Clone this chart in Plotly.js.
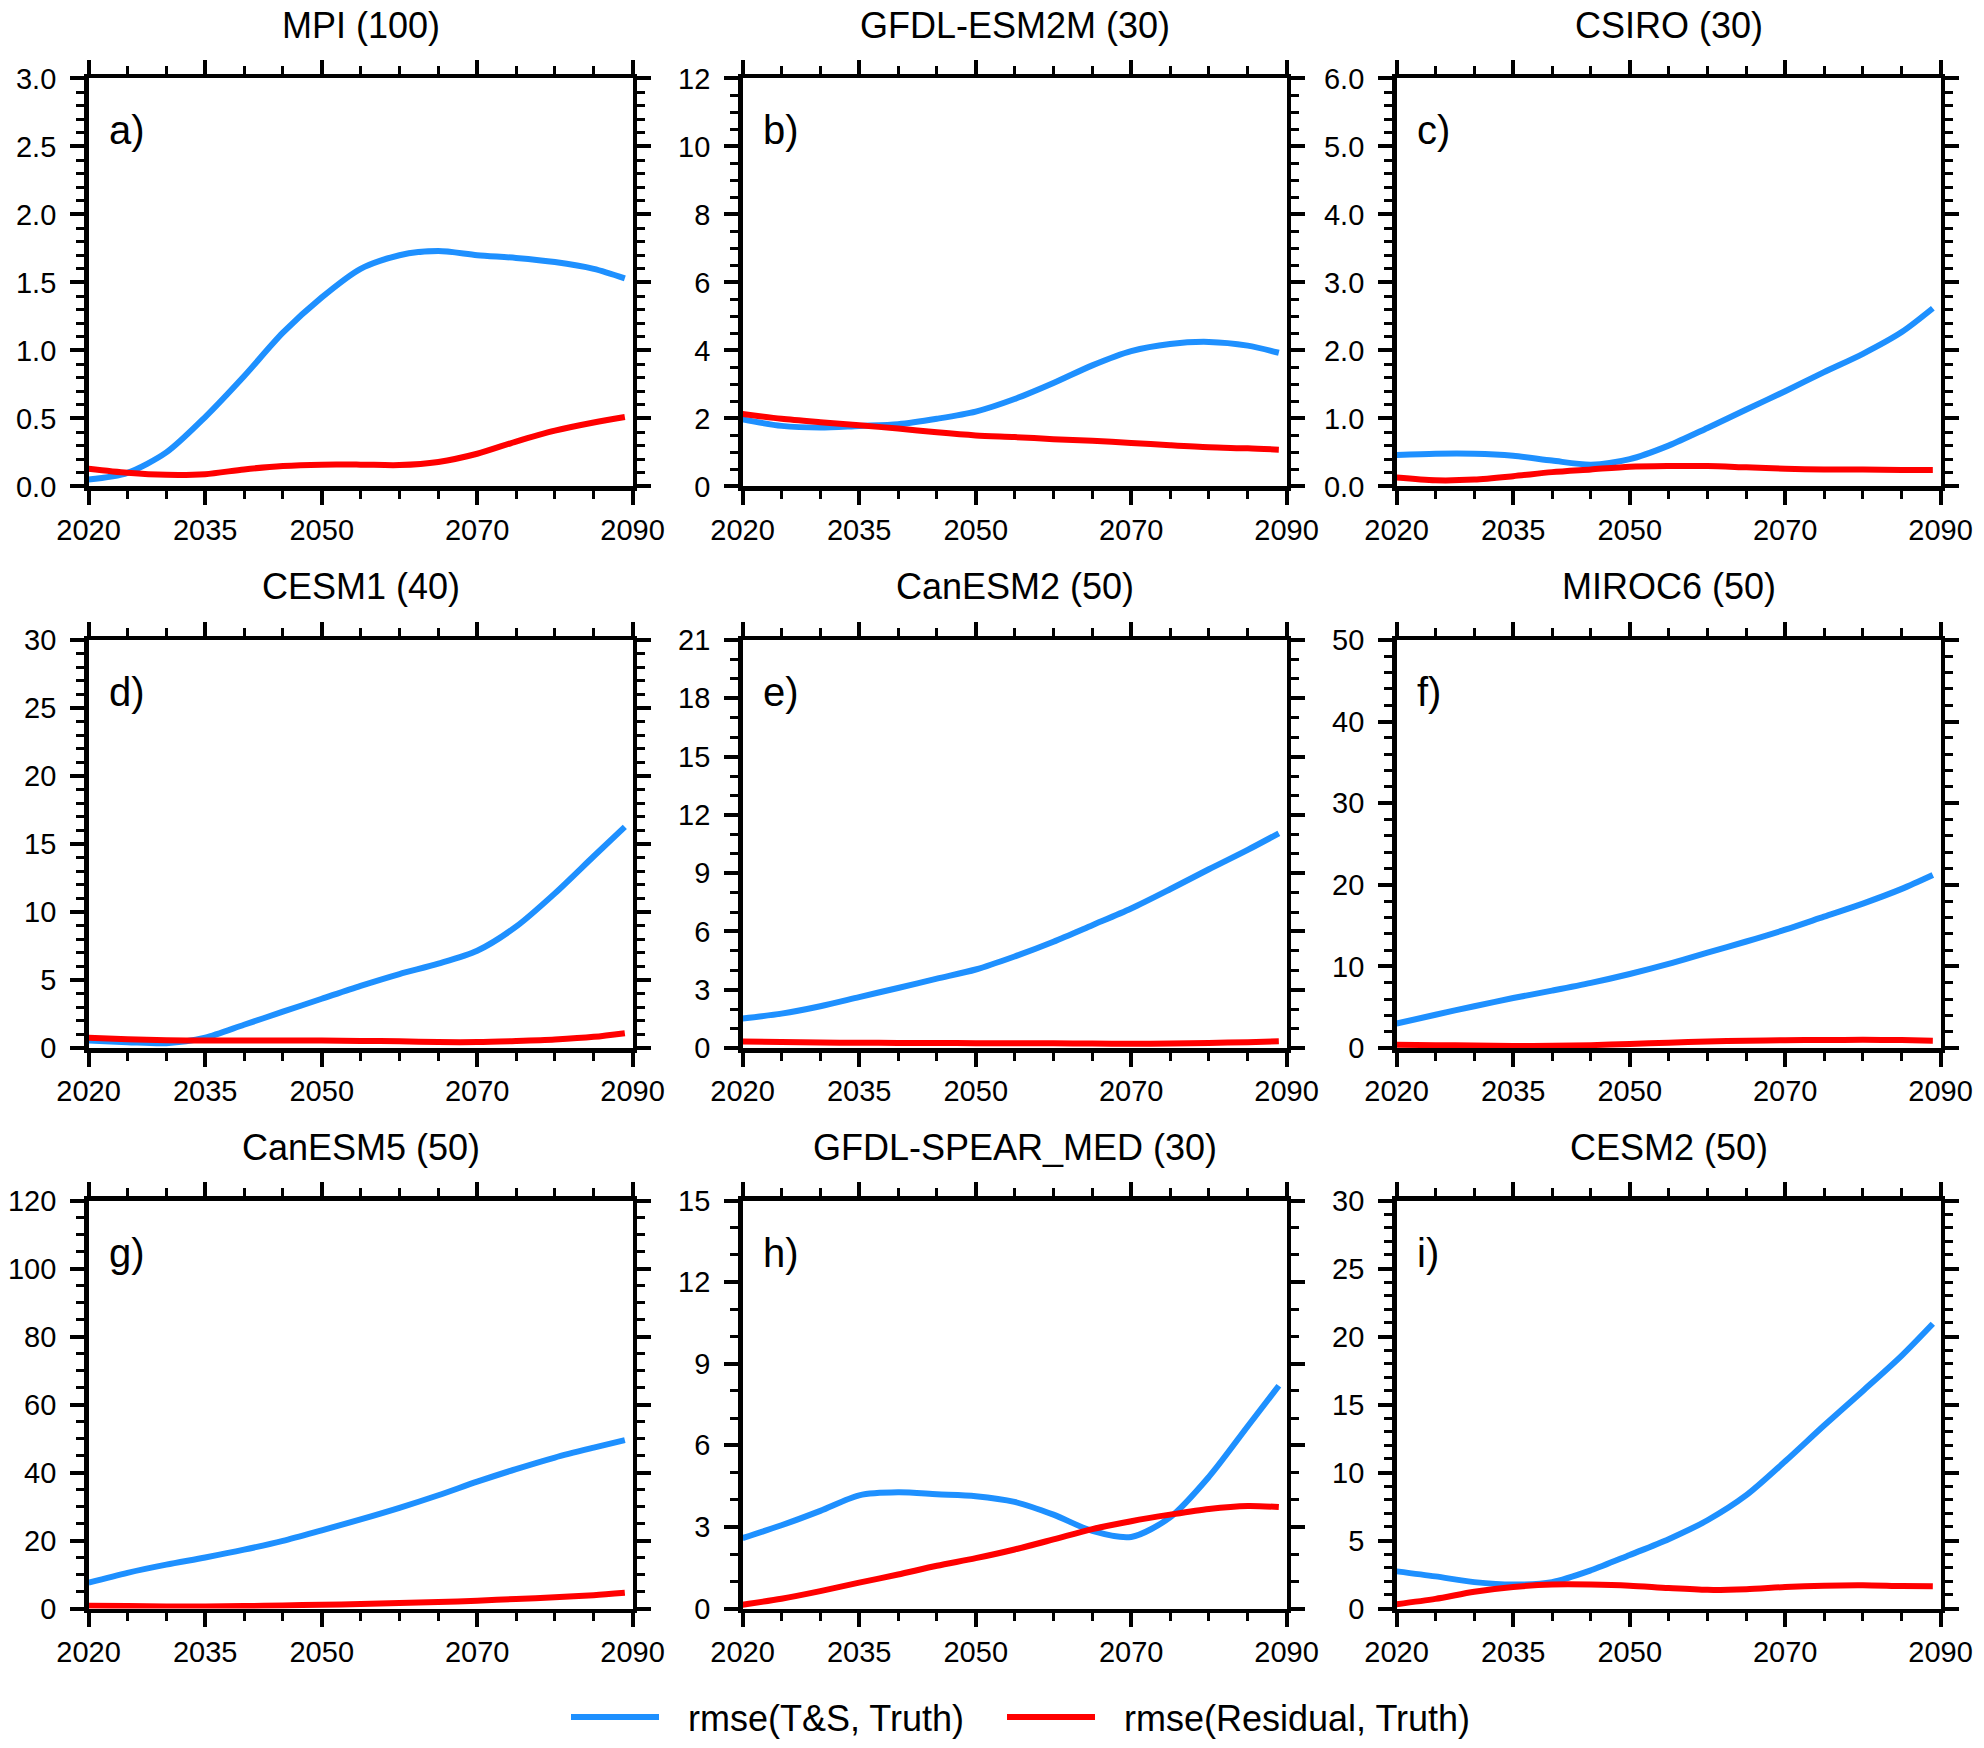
<!DOCTYPE html>
<html>
<head>
<meta charset="utf-8">
<script src="https://cdn.plot.ly/plotly-3.0.1.min.js"></script>
<style>html,body{margin:0;padding:0;background:#fff}#chart{width:1984px;height:1748px}</style>
</head>
<body>
<div id="chart"></div>
<script>
// ---- data ----
const years = [2020,2025,2030,2035,2040,2045,2050,2055,2060,2065,2070,2075,2080,2085,2089];
const titles = ["MPI (100)","GFDL-ESM2M (30)","CSIRO (30)","CESM1 (40)","CanESM2 (50)","MIROC6 (50)","CanESM5 (50)","GFDL-SPEAR_MED (30)","CESM2 (50)"];
const panelLabels = ["a)","b)","c)","d)","e)","f)","g)","h)","i)"];
const seriesNames = ["rmse(T&S, Truth)","rmse(Residual, Truth)"];

const tsA = [0.05,0.10,0.25,0.51,0.81,1.13,1.39,1.60,1.70,1.73,1.70,1.68,1.65,1.60,1.53];
const resA = [0.13,0.10,0.085,0.09,0.125,0.15,0.16,0.16,0.157,0.18,0.24,0.33,0.41,0.47,0.51];
const tsB = [1.97,1.78,1.73,1.78,1.83,1.99,2.20,2.57,3.04,3.56,3.98,4.19,4.25,4.14,3.93];
const resB = [2.13,1.99,1.89,1.80,1.70,1.59,1.50,1.45,1.39,1.34,1.28,1.21,1.15,1.12,1.08];
const tsC = [0.46,0.48,0.48,0.45,0.38,0.32,0.40,0.60,0.86,1.13,1.40,1.68,1.95,2.27,2.62];
const resC = [0.13,0.09,0.10,0.15,0.21,0.25,0.29,0.30,0.30,0.28,0.26,0.25,0.25,0.24,0.24];
const tsD = [0.55,0.43,0.35,0.76,1.71,2.67,3.62,4.57,5.44,6.20,7.15,8.92,11.37,14.1,16.26];
const resD = [0.76,0.65,0.57,0.55,0.55,0.55,0.55,0.52,0.49,0.44,0.44,0.52,0.63,0.82,1.09];
const tsE = [1.52,1.77,2.15,2.62,3.09,3.57,4.04,4.71,5.47,6.32,7.18,8.17,9.20,10.2,11.05];
const resE = [0.34,0.31,0.28,0.27,0.26,0.26,0.25,0.25,0.24,0.23,0.22,0.23,0.26,0.30,0.35];
const tsF = [3.0,4.08,5.12,6.12,7.03,7.98,9.07,10.3,11.7,13.05,14.5,16.1,17.7,19.5,21.2];
const resF = [0.40,0.35,0.30,0.25,0.28,0.35,0.50,0.65,0.80,0.88,0.95,0.98,1.00,0.97,0.90];
const tsG = [7.6,10.5,12.9,15.0,17.3,19.9,23.0,26.2,29.6,33.3,37.3,41.0,44.4,47.3,49.5];
const resG = [0.8,0.7,0.6,0.6,0.7,0.9,1.1,1.3,1.6,1.9,2.3,2.8,3.3,3.9,4.6];
const tsH = [2.59,3.06,3.59,4.16,4.27,4.20,4.13,3.92,3.45,2.85,2.63,3.35,4.84,6.70,8.19];
const resH = [0.14,0.36,0.64,0.95,1.25,1.57,1.85,2.17,2.54,2.92,3.21,3.45,3.66,3.77,3.73];
const tsI = [2.73,2.36,1.94,1.76,1.94,2.81,3.94,5.10,6.49,8.33,10.82,13.45,16.0,18.6,20.94];
const resI = [0.32,0.71,1.23,1.58,1.76,1.76,1.68,1.50,1.37,1.42,1.58,1.68,1.71,1.65,1.63];

const tsSeries = [tsA,tsB,tsC,tsD,tsE,tsF,tsG,tsH,tsI];
const resSeries = [resA,resB,resC,resD,resE,resF,resG,resH,resI];

const yMax = [3,12,6,30,21,50,120,15,30];
const yDtick = [0.5,2,1,5,3,10,20,3,5];
const yMinor = [0.1,0.5,0.2,1,1,2,5,1,1];
const yFormat = [".1f","d",".1f","d","d","d","d","d","d"];
const xTicks = [2020,2035,2050,2070,2090];
const xMinorTicks = [2025,2030,2040,2045,2055,2060,2065,2075,2080,2085];

// ---- layout geometry ----
const W = 1984, H = 1748;
const colL = [88.6, 742.6, 1396.6], plotW = 544;
const rowT = [78.4, 640, 1200.5], plotH = 408;

const BLUE = "#1E90FF", RED = "#FF0000";
const FONT = "Liberation Sans, Arial, Helvetica, sans-serif";
const LEGEND_SAMPLE = 88;

const traces = [];
const layout = {
  width: W, height: H,
  margin: {l:0, r:0, t:0, b:0},
  paper_bgcolor: "#fff", plot_bgcolor: "#fff",
  font: {family: FONT, color: "#000", size: 29},
  showlegend: true,
  legend: {
    orientation: "h", x: 566/W, xanchor: "left", y: 1 - 1717/H, yanchor: "middle",
    font: {family: FONT, size: 36, color: "#000"},
    itemwidth: LEGEND_SAMPLE + 24, tracegroupgap: 0,
    entrywidth: 309, entrywidthmode: "pixels", bgcolor: "rgba(0,0,0,0)"
  },
  annotations: []
};

for (let i = 0; i < 9; i++) {
  const r = Math.floor(i/3), c = i % 3;
  const sfx = i === 0 ? "" : String(i+1);
  const xa = "x" + sfx, ya = "y" + sfx;
  const x0 = colL[c]/W, x1 = (colL[c]+plotW)/W;
  const y1 = 1 - rowT[r]/H, y0 = 1 - (rowT[r]+plotH)/H;

  const axCommon = {
    showgrid: false, zeroline: false,
    showline: true, linecolor: "#000", linewidth: 4.5, mirror: "allticks",
    ticks: "outside", ticklen: 14, tickwidth: 4, tickcolor: "#000",
    tickfont: {family: FONT, size: 29, color: "#000"},
    fixedrange: true
  };
  layout["xaxis" + sfx] = Object.assign({}, axCommon, {
    domain: [x0, x1], anchor: ya, range: [2020, 2090],
    tickmode: "array", tickvals: xTicks, ticktext: xTicks.map(String),
    ticklabelstandoff: 0,
    minor: {tickmode: "array", tickvals: xMinorTicks, ticks: "outside", ticklen: 8, tickwidth: 3, tickcolor: "#000", showgrid: false}
  });
  layout["yaxis" + sfx] = Object.assign({}, axCommon, {
    domain: [y0, y1], anchor: xa, range: [0, yMax[i]],
    tickmode: "linear", tick0: 0, dtick: yDtick[i], tickformat: yFormat[i],
    ticklabelstandoff: 8,
    minor: {tickmode: "linear", tick0: 0, dtick: yMinor[i], ticks: "outside", ticklen: 8, tickwidth: 3, tickcolor: "#000", showgrid: false}
  });

  traces.push({
    type: "scatter", mode: "lines", x: years, y: tsSeries[i], xaxis: xa, yaxis: ya,
    name: seriesNames[0], legendgroup: "ts", showlegend: i === 0,
    line: {color: BLUE, width: 6, shape: "spline", smoothing: 0.8}, hoverinfo: "skip"
  });
  traces.push({
    type: "scatter", mode: "lines", x: years, y: resSeries[i], xaxis: xa, yaxis: ya,
    name: seriesNames[1], legendgroup: "res", showlegend: i === 0,
    line: {color: RED, width: 6, shape: "spline", smoothing: 0.8}, hoverinfo: "skip"
  });

  layout.annotations.push({
    text: titles[i], xref: xa + " domain", yref: ya + " domain",
    x: 0.5, y: 1 + 53/plotH, xanchor: "center", yanchor: "middle",
    showarrow: false, font: {family: FONT, size: 36, color: "#000"}
  });
  layout.annotations.push({
    text: panelLabels[i], xref: xa + " domain", yref: ya + " domain",
    x: 18/plotW, y: 1 - 52/plotH, xanchor: "left", yanchor: "middle",
    showarrow: false, font: {family: FONT, size: 40, color: "#000"}
  });
}

Plotly.newPlot("chart", traces, layout, {staticPlot: true, displayModeBar: false}).then(function () {
  // lengthen the legend key lines to match the reference key style
  document.querySelectorAll(".legend .legendlines path").forEach(function (p) {
    p.setAttribute("d", "M5,0h" + LEGEND_SAMPLE);
  });
  // let the last legend entry show its full text (fixed entry width would clip it)
  document.querySelectorAll(".legend [clip-path]").forEach(function (g) {
    g.removeAttribute("clip-path");
  });
});
</script>
</body>
</html>
